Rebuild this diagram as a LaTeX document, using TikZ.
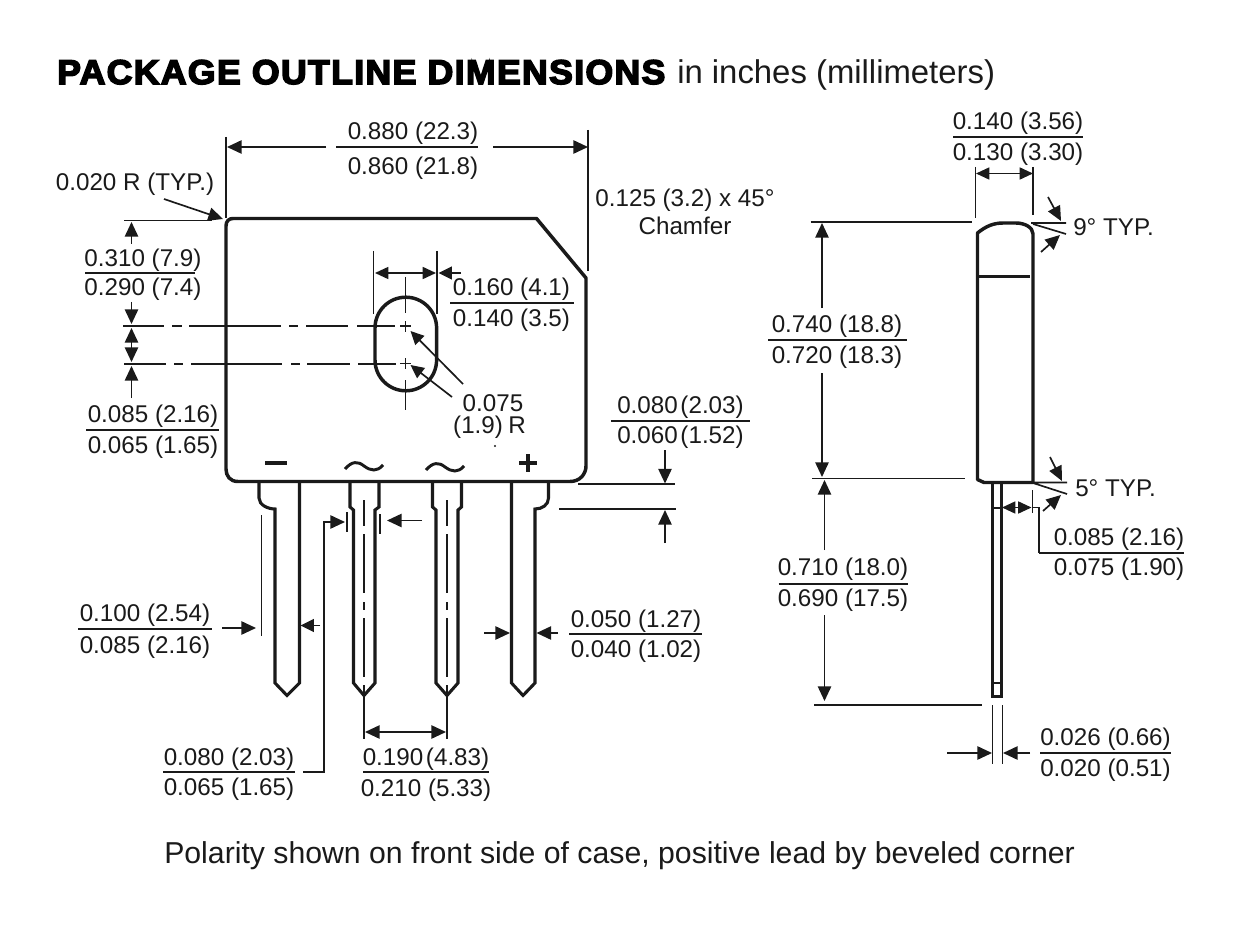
\documentclass[tikz,border=0pt]{standalone}
\usepackage{fontspec}
\usepackage{graphicx}
\setmainfont{Liberation Sans}
\newfontface\blk{Liberation Sans Bold}[FakeBold=4.5,LetterSpace=4]
\usetikzlibrary{arrows.meta}
\definecolor{ink}{HTML}{1A1A1A}
\tikzset{
  thick line/.style={draw=ink,line width=2.6pt,line join=round},
  lead line/.style={draw=ink,line width=2.3pt,line join=miter},
  thin line/.style={draw=ink,line width=1.25pt},
  arr/.style={thin line,-{Triangle[length=11pt,width=10pt]}},
  sarr/.style={thin line,-{Triangle[length=10pt,width=9.5pt]}},
  darr/.style={thin line,{Triangle[length=11pt,width=10pt]}-{Triangle[length=11pt,width=10pt]}},
  sdarr/.style={thin line,{Triangle[length=10pt,width=9pt]}-{Triangle[length=10pt,width=9pt]}},
  dim text/.style={inner sep=0pt,text=ink,font=\fontsize{18.15}{18}\selectfont,anchor=base},
}
% name, line x1, line x2, text centre x, line y, upper text, lower text, upper offset, lower offset
\newcommand{\frc}[9]{%
  \draw[thin line] ({#2},{#5}) -- ({#3},{#5});
  \node[dim text] (#1a) at ({#4},{#5-#8}) {#6};
  \node[dim text] (#1b) at ({#4},{#5+#9}) {#7};
}
\begin{document}
\begin{tikzpicture}[x=0.75pt,y=-0.75pt]
\useasboundingbox (0,0) rectangle (1249,927);
\fill[white] (0,0) rectangle (1249,927);

% titles
\node[inner sep=0pt,anchor=base west,text=black] (title) at (57,84) {\resizebox{456pt}{18pt}{\blk PACKAGE OUTLINE DIMENSIONS}};
\node[inner sep=0pt,anchor=base west,text=ink,font=\fontsize{24.65}{25}\selectfont] (unit) at (677,84) {in inches (millimeters)};
\node[inner sep=0pt,anchor=base west,text=ink,font=\fontsize{22.67}{23}\selectfont] (polarity) at (164,863) {Polarity shown on front side of case, positive lead by beveled corner};

% ---------- front view body
\draw[thick line] (233,218.5) -- (536.5,218.5) -- (586,278) -- (586,466)
  .. controls (586,474) and (580,481.5) .. (570,481.5) -- (238,481.5)
  .. controls (230,481.5) and (226,476) .. (226,469) -- (226,226)
  .. controls (226,221) and (229,218.5) .. (233,218.5) -- cycle;

% slot
\draw[thick line] (375,328) arc[start angle=180,end angle=360,radius=30.8] -- (436.6,360)
  arc[start angle=0,end angle=180,radius=30.8] -- cycle;
\draw[thin line] (405.5,277) -- (405.5,313) (405.5,321) -- (405.5,332) (400,326) -- (411,326)
  (405.5,358) -- (405.5,369) (400,363.5) -- (411,363.5) (405.5,380) -- (405.5,410);

% centre lines
\draw[thin line] (123,326) -- (164,326) (172,326) -- (182,326) (189,326) -- (281,326) (289,326) -- (298,326) (306,326) -- (348,326) (357,326) -- (395,326);
\draw[thin line] (124,364) -- (166,364) (174,364) -- (183,364) (191,364) -- (282,364) (291,364) -- (300,364) (307,364) -- (350,364) (358,364) -- (396,364);

% terminal marks
\fill[ink] (265,461.3) rectangle (287,464.7);
\draw[ink,line width=2.2pt] (345,469) .. controls (352,461) and (358,461) .. (364,466) .. controls (371,471) and (377,472) .. (383,465);
\draw[ink,line width=2.2pt] (426,470) .. controls (433,462) and (439,462) .. (445,467) .. controls (452,472) and (458,473) .. (464,466);
\draw[ink,line width=2.3pt] (519,463) -- (537,463) (528,454) -- (528,472);
\fill[ink] (495,446) circle[radius=1.2];

% leads
\draw[lead line] (259,482) -- (259,498) .. controls (259,505) and (268,509) .. (275,509) -- (275,683) -- (287,695.5) -- (299.5,683) -- (299.5,482);
\draw[lead line] (350,482) -- (350,507) -- (353.5,510) -- (353.5,683) -- (364,695.5) -- (375,683) -- (375,510) -- (379,507) -- (379,482);
\draw[lead line] (432.5,482) -- (432.5,507) -- (436,510) -- (436,683) -- (447,695.5) -- (458,683) -- (458,510) -- (461.5,507) -- (461.5,482);
\draw[lead line] (548.5,482) -- (548.5,498) .. controls (548.5,505) and (542,509) .. (535,509) -- (535,683) -- (523,695.5) -- (511.5,683) -- (511.5,482);

% lead centre lines
\foreach \cx in {364,447}{
  \draw[thin line] (\cx,500) -- (\cx,526) (\cx,534) -- (\cx,593) (\cx,602) -- (\cx,610) (\cx,618) -- (\cx,677) (\cx,685) -- (\cx,739);
}

% 0.880
\draw[thin line] (226,137) -- (226,218);
\draw[thin line] (588,130) -- (588,271);
\draw[arr] (326,147) -- (227,147);
\draw[arr] (493,147) -- (588,147);
\frc{wid}{336}{478}{413}{147}{0.880 (22.3)}{0.860 (21.8)}{7.7}{28}

% 0.020 R
\node[dim text] (rad) at (135,191) {0.020 R (TYP.)};
\draw[arr] (164,199) -- (223,219);
\draw[thin line] (124,220.5) -- (212,220.5);

% left vertical dims
\draw[arr] (131.5,244) -- (131.5,222);
\frc{top}{85}{195}{143}{273}{0.310 (7.9)}{0.290 (7.4)}{6.3}{22.7}
\draw[arr] (131.5,302) -- (131.5,324);
\draw[darr] (131.5,328) -- (131.5,362);
\draw[arr] (131.5,398) -- (131.5,366);
\frc{sl}{86}{219}{153}{430}{0.085 (2.16)}{0.065 (1.65)}{7.5}{23.5}

% 0.160
\draw[thin line] (373.5,251) -- (373.5,314) (437,251) -- (437,314);
\draw[sdarr] (375,273) -- (436,273);
\draw[sarr] (461,273) -- (438.5,273);
\frc{sw}{450}{574}{511.5}{303}{0.160 (4.1)}{0.140 (3.5)}{7.3}{23}

% 0.075
\draw[sarr] (463,384) -- (410.5,331);
\draw[sarr] (452,397) -- (410.5,365);
\node[dim text] (ra) at (493,411) {0.075};
\node[dim text] (rb) at (489.5,433) {(1.9)\kern-1pt{} R};

% 0.125
\node[dim text] (cha) at (685,207) {0.125 (3.2) x 45°};
\node[dim text] (chb) at (685,235) {Chamfer};

% 0.080 / 0.060
\frc{st}{611}{750}{680.5}{421}{0.080\kern2pt(2.03)}{0.060\kern2pt(1.52)}{7.5}{22.6}
\draw[thin line] (578,484) -- (675,484) (559,509) -- (676,509);
\draw[arr] (665,450) -- (665,483.5);
\draw[arr] (665,543) -- (665,510);

% 0.100
\frc{lw}{78}{212}{145}{629}{0.100 (2.54)}{0.085 (2.16)}{7.5}{24.5}
\draw[thin line] (261.5,515) -- (261.5,636);
\draw[arr] (222,628) -- (256,628);
\draw[sarr] (320,625.5) -- (300.5,625.5);

% 0.080 / 0.065
\frc{nw}{163}{295}{229}{772}{0.080 (2.03)}{0.065 (1.65)}{6.5}{23.5}
\draw[thin line] (347,512) -- (347,532) (380,514) -- (380,534);
\draw[arr] (303,772) -- (324,772) -- (324,522) -- (345,522);
\draw[arr] (422,520.5) -- (387,520.5);

% 0.190
\frc{pt}{363}{489}{426}{772}{0.190\kern2pt(4.83)}{0.210 (5.33)}{7}{24.5}
\draw[darr] (365,732) -- (446,732);

% 0.050
\draw[arr] (484,633) -- (510,633);
\draw[arr] (558,633) -- (536.5,633);
\frc{tk}{569}{702}{636}{634}{0.050 (1.27)}{0.040 (1.02)}{6.5}{23.5}

% ---------- side view
\draw[thick line] (977.5,233) .. controls (986,226) and (994,223) .. (1003,223) -- (1016,223)
  .. controls (1024,223) and (1033,227) .. (1033,234) -- (1033,482.5) -- (984,482.5) -- (977.5,479.5) -- cycle;
\draw[thick line] (977.5,276.5) -- (1030,276.5);
\draw[lead line] (992.5,483) -- (992.5,696.5) -- (1001.5,696.5) -- (1001.5,483);
\draw[thin line] (992.5,508) -- (1001.5,508);
\draw[thin line] (992.5,683) -- (1001.5,683);

% 0.140
\frc{sa}{953}{1083}{1018}{137}{0.140 (3.56)}{0.130 (3.30)}{7.5}{23.5}
\draw[thin line] (975.5,167) -- (975.5,218) (1033,167) -- (1033,215);
\draw[sdarr] (976,173.5) -- (1033,173.5);

% 0.740
\draw[thin line] (810.5,222) -- (972,222);
\draw[arr] (822,308) -- (822,223);
\frc{sb}{768}{906.5}{837}{340}{0.740 (18.8)}{0.720 (18.3)}{8}{23}
\draw[arr] (822,373) -- (822,477);
\draw[thin line] (812,478.5) -- (965,478.5);

% 0.710
\draw[arr] (824.5,550) -- (824.5,480);
\frc{sc}{778.5}{908}{843}{584}{0.710 (18.0)}{0.690 (17.5)}{9}{22.5}
\draw[arr] (824.5,615) -- (824.5,701);
\draw[thin line] (814,705) -- (982,705);

% 9 deg
\draw[thin line] (1031,223) -- (1066,223) (1033,224) -- (1066,234);
\draw[arr] (1048,197) -- (1061,221);
\draw[arr] (1041,252) -- (1060,235);
\node[dim text,anchor=base west] (nine) at (1073,235.5) {9° TYP.};

% 5 deg
\draw[thin line] (1033,482.5) -- (1067,482.5) (1033,483) -- (1067,494);
\draw[arr] (1050,457) -- (1062,481);
\draw[arr] (1043,511) -- (1061,495);
\node[dim text,anchor=base west] (five) at (1075,496.5) {5° TYP.};

% 0.085 side
\draw[thin line] (1032.5,490) -- (1032.5,513);
\draw[sdarr] (1002,507.5) -- (1031.5,507.5);
\draw[thin line] (1032.5,507.5) -- (1039,507.5) -- (1039,553);
\frc{sd}{1039}{1184}{1119}{553}{0.085 (2.16)}{0.075 (1.90)}{8}{22}

% 0.026
\draw[thin line] (992.5,705) -- (992.5,764) (1002.5,705) -- (1002.5,764);
\draw[arr] (947,753) -- (992,753);
\draw[arr] (1030,753) -- (1003,753);
\frc{se}{1040}{1171}{1105.5}{753}{0.026 (0.66)}{0.020 (0.51)}{8}{23}
\end{tikzpicture}
\end{document}
